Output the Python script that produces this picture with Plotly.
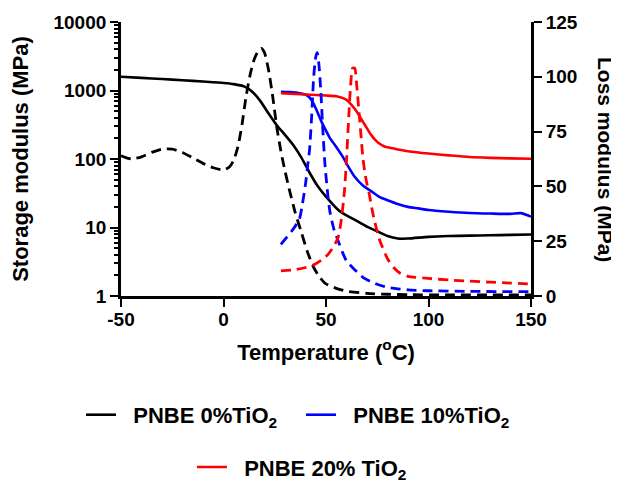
import plotly.graph_objects as go

# ---- data ----
t_s0 = [-50, -40, -30, -20, -10, 0, 5, 10, 14, 18, 22, 26, 30, 34, 38, 42, 46, 52, 56, 60, 65, 70, 75, 80, 85, 90, 100, 110, 120, 130, 140, 150]
e_s0 = [1590, 1530, 1470, 1410, 1350, 1290, 1240, 1150, 960, 700, 460, 310, 225, 160, 105, 63, 40, 24, 18, 15, 12.5, 10.3, 8.8, 7.5, 6.9, 6.9, 7.3, 7.5, 7.6, 7.7, 7.8, 7.9]

t_l0 = [-50, -45, -40, -35, -30, -25, -20, -15, -10, -5, 0, 3, 5, 7, 9, 11, 13, 15, 17, 18.5, 20, 22, 24, 26, 28, 30, 32, 35, 38, 41, 44, 47, 50, 55, 60, 70, 80, 90, 110, 150]
l_l0 = [64, 62.5, 63.5, 65.5, 67, 67, 65.5, 63, 60.5, 58.5, 57.5, 59, 62, 68, 78, 91, 101, 108, 112, 113, 111, 103, 91, 77, 66, 57, 49, 38, 29, 20, 13, 8.5, 5.5, 3.5, 2.2, 1.2, 0.8, 0.6, 0.5, 0.5]

t_s10 = [28, 32, 36, 40, 42, 44, 46, 48, 50, 52, 55, 58, 60, 64, 68, 72, 76, 80, 85, 90, 95, 100, 110, 120, 130, 140, 145, 150]
e_s10 = [960, 950, 930, 870, 790, 640, 470, 340, 260, 200, 150, 110, 86, 55, 41, 34, 28, 25, 22, 20, 19, 18, 17, 16.3, 16, 15.8, 16.2, 14.4]

t_l10 = [28, 31, 34, 37, 38.5, 40, 41, 42, 43, 44, 45, 45.7, 46.5, 47.5, 48.5, 49.5, 51, 52, 54, 56, 58, 60, 64, 68, 72, 76, 80, 85, 90, 100, 120, 150]
l_l10 = [23.5, 27, 30.5, 35, 42, 51, 59, 67, 82, 100, 109, 111, 106, 93, 75, 60, 45, 38, 30, 25, 20, 16, 12, 8.5, 6.5, 5, 4, 3.3, 2.8, 2.4, 2.1, 2.0]

t_s20 = [28, 35, 40, 45, 50, 55, 58, 60, 62, 64, 66, 68, 70, 72, 74, 76, 78, 80, 85, 90, 100, 110, 120, 130, 140, 150]
e_s20 = [910, 890, 875, 860, 845, 825, 780, 730, 640, 540, 440, 350, 280, 225, 190, 168, 155, 148, 138, 130, 120, 113, 107, 104, 102, 101]

t_l20 = [28, 35, 40, 44, 48, 51, 54, 56, 57.5, 59, 60, 61, 62, 63, 64, 65, 66, 67, 68, 69, 70, 71, 73, 76, 80, 83, 86, 90, 100, 110, 120, 130, 140, 150]
l_l20 = [11.5, 12, 13, 14.2, 16.5, 19, 23, 27, 35, 48, 62, 80, 96, 104, 104, 96, 85, 74, 63, 56, 51, 47, 37, 26, 17, 13, 10.5, 9, 8, 7.3, 6.8, 6.3, 5.9, 5.5]

names = ["PNBE 0%TiO<sub>2</sub>", "PNBE 10%TiO<sub>2</sub>", "PNBE 20% TiO<sub>2</sub>"]
colors = ["#000000", "#0000FF", "#FF0000"]

ytick_vals = [1, 10, 100, 1000, 10000]
ytick_text = ["1", "10", "100", "1000", "10000"]
y2_ticks = [0, 25, 50, 75, 100, 125]
x_ticks = [-50, 0, 50, 100, 150]
x_ticktext = ["-50", "0", "50", "100", "150"]

FONT = "Liberation Sans, Arial, sans-serif"
W = 2.6
DASH = "10px,6px"
GAP = "\u00a0\u00a0"

fig = go.Figure()

storage = [(t_s0, e_s0), (t_s10, e_s10), (t_s20, e_s20)]
loss = [(t_l0, l_l0), (t_l10, l_l10), (t_l20, l_l20)]
legends = ["legend", "legend", "legend2"]

for i, (t, e) in enumerate(storage):
    fig.add_trace(go.Scatter(x=t, y=e, mode="lines", name=GAP + names[i],
                             line=dict(color=colors[i], width=W, shape="spline", smoothing=0.6),
                             yaxis="y", legend=legends[i]))
for i, (t, l) in enumerate(loss):
    fig.add_trace(go.Scatter(x=t, y=l, mode="lines", name=names[i] + " loss", showlegend=False,
                             line=dict(color=colors[i], width=2.8, dash=DASH, shape="spline", smoothing=0.6),
                             yaxis="y2"))

axis_common = dict(showline=True, linecolor="black", linewidth=2.8, ticks="outside",
                   tickcolor="black", tickwidth=2.2, ticklen=8, showgrid=False, zeroline=False,
                   automargin=False,
                   tickfont=dict(family=FONT, size=19, color="black", weight="bold"))

# page has an 8px body margin, so the figure is shifted by 8px; compensate
fig.update_layout(
    width=611, height=474,
    margin=dict(l=113, r=88, t=14, b=186, autoexpand=False),
    paper_bgcolor="white", plot_bgcolor="white",
    font=dict(family=FONT, color="black"),
    xaxis=dict(range=[-50, 150], tickvals=x_ticks, ticktext=x_ticktext, **axis_common,
               ticklabelstandoff=-4,
               title=dict(text="Temperature (<sup>o</sup>C)", standoff=16,
                          font=dict(family=FONT, size=22, weight="bold", color="black"))),
    yaxis=dict(type="log", range=[0, 4], tickvals=ytick_vals, ticktext=ytick_text, **axis_common,
               minor=dict(ticks="outside", ticklen=4, tickwidth=1.5, tickcolor="black", dtick="D1", showgrid=False),
               title=dict(text="Storage modulus (MPa)", standoff=19,
                          font=dict(family=FONT, size=22, weight="bold", color="black"))),
    yaxis2=dict(overlaying="y", side="right", range=[0, 125], tickvals=y2_ticks, **axis_common),
    legend=dict(orientation="h", x=-0.0976, xanchor="left", y=-0.434, yanchor="middle",
                font=dict(family=FONT, size=22, weight="bold", color="black"),
                entrywidth=175, bgcolor="rgba(0,0,0,0)"),
    legend2=dict(orientation="h", x=0.173, xanchor="left", y=-0.625, yanchor="middle",
                 font=dict(family=FONT, size=22, weight="bold", color="black"),
                 bgcolor="rgba(0,0,0,0)"),
    annotations=[dict(text="Loss modulus (MPa)", x=(598 - 113) / 410, xref="paper", y=0.5, yref="paper",
                      textangle=90, showarrow=False, xanchor="center", yanchor="middle",
                      font=dict(family=FONT, size=21, weight="bold", color="black"))],
)

fig.write_html("out.html")
